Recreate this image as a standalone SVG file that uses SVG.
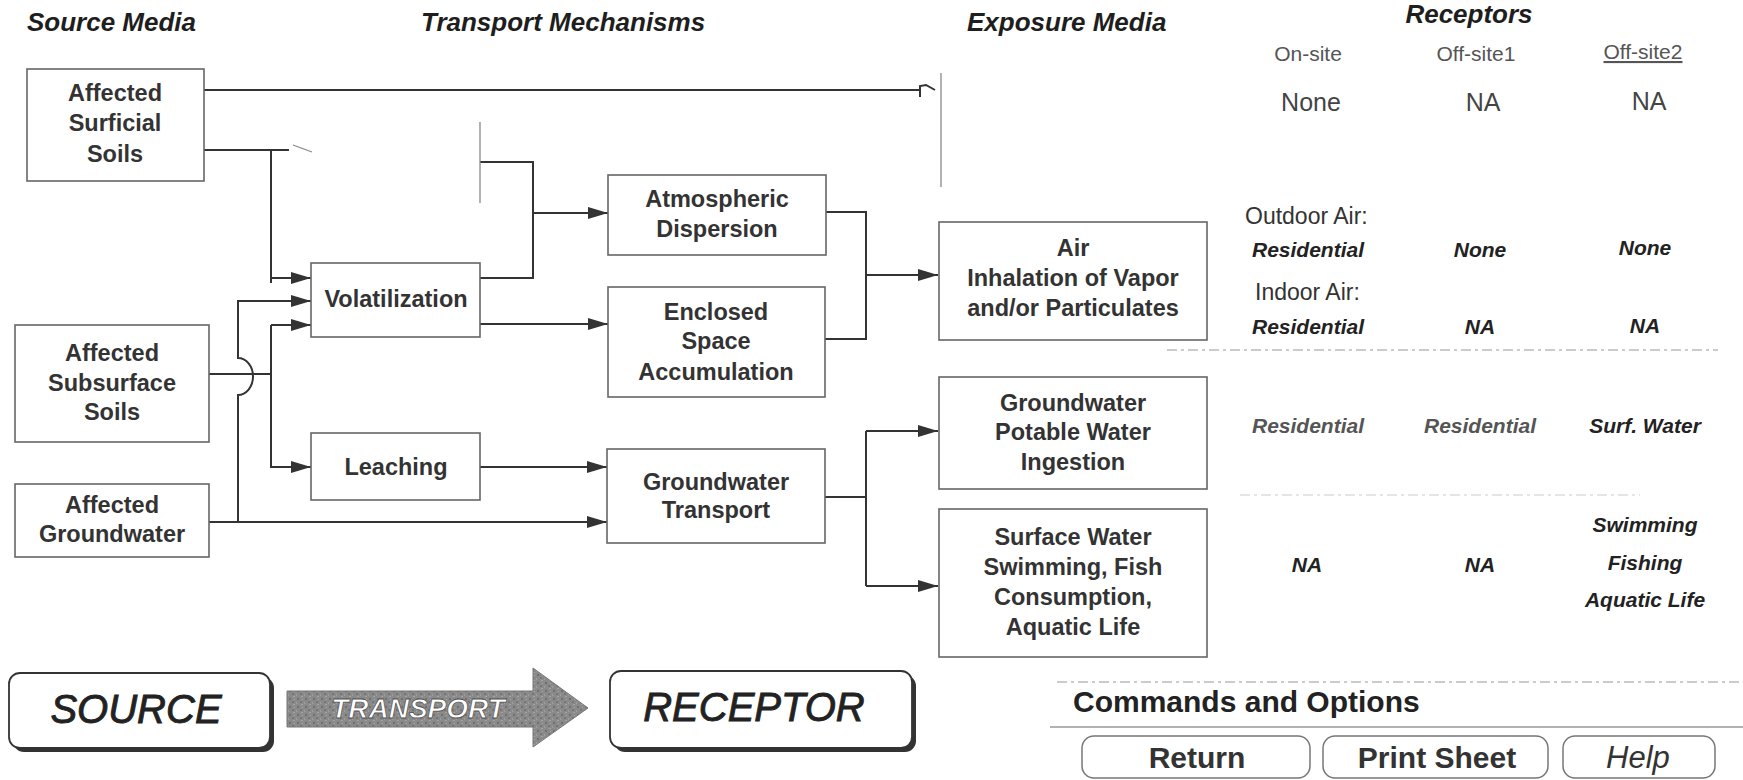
<svg xmlns="http://www.w3.org/2000/svg" width="1743" height="780" viewBox="0 0 1743 780">
<style>
text{font-family:"Liberation Sans",Arial,Helvetica,sans-serif;fill:#2a2a2a}
.hdr{font-size:26px;font-weight:bold;font-style:italic;fill:#1e1e1e}
.bx{fill:#fff;stroke:#666;stroke-width:1.6}
.bt{font-size:23.5px;font-weight:bold;text-anchor:middle;fill:#333}
.ln{fill:none;stroke:#333;stroke-width:2}
.lt{fill:none;stroke:#888;stroke-width:1.3}
.col{font-size:21px;text-anchor:middle;fill:#555}
.val{font-size:25px;text-anchor:middle;fill:#444}
.lab{font-size:23px;fill:#333}
.bi{font-size:21px;font-weight:bold;font-style:italic;text-anchor:middle;fill:#222}
.bg{font-size:21px;font-weight:bold;font-style:italic;text-anchor:middle;fill:#555}
.big{font-size:40px;font-style:italic;text-anchor:middle;fill:#222;stroke:#222;stroke-width:0.9}
.btn{fill:#fff;stroke:#777;stroke-width:1.5}
.bl{font-size:30px;font-weight:bold;text-anchor:middle;fill:#333}
.sep{stroke:#bbb;stroke-width:1.5;stroke-dasharray:10 4 3 4;fill:none}
</style>
<defs>
<marker id="ah" markerUnits="userSpaceOnUse" markerWidth="20" markerHeight="12" refX="20" refY="6" orient="auto">
<path d="M0,0 L20,6 L0,12 z" fill="#333"/>
</marker>
<pattern id="mottle" patternUnits="userSpaceOnUse" width="8" height="8">
<rect width="8" height="8" fill="#8a8a8a"/>
<rect x="1" y="2" width="2" height="2" fill="#6f6f6f"/>
<rect x="5" y="0" width="2" height="1" fill="#a3a3a3"/>
<rect x="4" y="5" width="2" height="2" fill="#767676"/>
<rect x="0" y="6" width="1" height="2" fill="#9e9e9e"/>
<rect x="6" y="3" width="1" height="1" fill="#a8a8a8"/>
</pattern>
</defs>
<rect width="1743" height="780" fill="#fff"/>

<g id="headers">
<text class="hdr" x="27" y="31">Source Media</text>
<text class="hdr" x="421" y="31">Transport Mechanisms</text>
<text class="hdr" x="967" y="31">Exposure Media</text>
<text class="hdr" x="1469" y="23" text-anchor="middle">Receptors</text>
</g>

<g id="connectors">
<path class="ln" d="M204,90 H920 M920,97 V86 L926,85 L935,90"/>
<path class="lt" d="M941,73 V187"/>
<path class="ln" d="M204,150 H289"/>
<path class="lt" d="M293,145 L312,152"/>
<path class="ln" d="M271,150 V283"/>
<path class="ln" d="M271,278 H311" marker-end="url(#ah)"/>
<path class="ln" d="M209,374 H271 M271,325 V468"/>
<path class="ln" d="M271,325 H311" marker-end="url(#ah)"/>
<path class="ln" d="M271,467 H311" marker-end="url(#ah)"/>
<path class="ln" d="M209,522 H607" marker-end="url(#ah)"/>
<path class="ln" d="M238,522 V395 A15 18.5 0 0 0 238,358 V301 H311" marker-end="url(#ah)"/>
<path class="ln" d="M480,278 H533 V162 H480"/>
<path class="lt" d="M480,122 V203"/>
<path class="ln" d="M533,213 H608" marker-end="url(#ah)"/>
<path class="ln" d="M480,324 H608" marker-end="url(#ah)"/>
<path class="ln" d="M480,467 H607" marker-end="url(#ah)"/>
<path class="ln" d="M826,212 H866 V339 H825"/>
<path class="ln" d="M866,275 H938" marker-end="url(#ah)"/>
<path class="ln" d="M825,497 H866 M866,431 V586"/>
<path class="ln" d="M866,431 H938" marker-end="url(#ah)"/>
<path class="ln" d="M866,586 H938" marker-end="url(#ah)"/>
</g>

<g id="surficial">
<rect class="bx" x="27" y="69" width="177" height="112"/>
<text class="bt" x="115" y="101">Affected</text>
<text class="bt" x="115" y="131">Surficial</text>
<text class="bt" x="115" y="162">Soils</text>
</g>
<g id="subsurface">
<rect class="bx" x="15" y="325" width="194" height="117"/>
<text class="bt" x="112" y="361">Affected</text>
<text class="bt" x="112" y="391">Subsurface</text>
<text class="bt" x="112" y="420">Soils</text>
</g>
<g id="groundwater">
<rect class="bx" x="15" y="484" width="194" height="73"/>
<text class="bt" x="112" y="513">Affected</text>
<text class="bt" x="112" y="542">Groundwater</text>
</g>
<g id="volatilization">
<rect class="bx" x="311" y="263" width="169" height="74"/>
<text class="bt" x="396" y="307">Volatilization</text>
</g>
<g id="leaching">
<rect class="bx" x="311" y="433" width="169" height="67"/>
<text class="bt" x="396" y="475">Leaching</text>
</g>
<g id="atmospheric">
<rect class="bx" x="608" y="175" width="218" height="80"/>
<text class="bt" x="717" y="207">Atmospheric</text>
<text class="bt" x="717" y="237">Dispersion</text>
</g>
<g id="enclosed">
<rect class="bx" x="608" y="287" width="217" height="110"/>
<text class="bt" x="716" y="320">Enclosed</text>
<text class="bt" x="716" y="349">Space</text>
<text class="bt" x="716" y="380">Accumulation</text>
</g>
<g id="gwtransport">
<rect class="bx" x="607" y="449" width="218" height="94"/>
<text class="bt" x="716" y="490">Groundwater</text>
<text class="bt" x="716" y="518">Transport</text>
</g>
<g id="air">
<rect class="bx" x="939" y="222" width="268" height="118"/>
<text class="bt" x="1073" y="256">Air</text>
<text class="bt" x="1073" y="286">Inhalation of Vapor</text>
<text class="bt" x="1073" y="316">and/or Particulates</text>
</g>
<g id="gwpotable">
<rect class="bx" x="939" y="377" width="268" height="112"/>
<text class="bt" x="1073" y="411">Groundwater</text>
<text class="bt" x="1073" y="440">Potable Water</text>
<text class="bt" x="1073" y="470">Ingestion</text>
</g>
<g id="surfacewater">
<rect class="bx" x="939" y="509" width="268" height="148"/>
<text class="bt" x="1073" y="545">Surface Water</text>
<text class="bt" x="1073" y="575">Swimming, Fish</text>
<text class="bt" x="1073" y="605">Consumption,</text>
<text class="bt" x="1073" y="635">Aquatic Life</text>
</g>

<g id="receptors">
<text class="col" x="1308" y="61">On-site</text>
<text class="col" x="1476" y="61">Off-site1</text>
<text class="col" x="1643" y="59" text-decoration="underline">Off-site2</text>
<text class="val" x="1311" y="111">None</text>
<text class="val" x="1483" y="111">NA</text>
<text class="val" x="1649" y="110">NA</text>
<text class="lab" x="1245" y="224">Outdoor Air:</text>
<text class="bi" x="1308" y="257">Residential</text>
<text class="bi" x="1480" y="257">None</text>
<text class="bi" x="1645" y="255">None</text>
<text class="lab" x="1255" y="300">Indoor Air:</text>
<text class="bi" x="1308" y="334">Residential</text>
<text class="bi" x="1480" y="334">NA</text>
<text class="bi" x="1645" y="333">NA</text>
<path class="sep" d="M1167,350 H1718"/>
<text class="bg" x="1308" y="433">Residential</text>
<text class="bg" x="1480" y="433">Residential</text>
<text class="bi" x="1645" y="433">Surf. Water</text>
<path class="sep" d="M1240,495 H1640" style="stroke:#ddd"/>
<text class="bi" x="1645" y="532">Swimming</text>
<text class="bi" x="1645" y="570">Fishing</text>
<text class="bi" x="1645" y="607">Aquatic Life</text>
<text class="bi" x="1307" y="572">NA</text>
<text class="bi" x="1480" y="572">NA</text>
</g>

<g id="legend">
<rect x="13" y="677" width="261" height="75" rx="11" fill="#333"/>
<rect x="9" y="673" width="261" height="75" rx="11" fill="#fff" stroke="#333" stroke-width="1.8"/>
<text class="big" x="136" y="723">SOURCE</text>
<path d="M287,691 H533 V668 L588,708 L533,747 V727 H287 z" fill="url(#mottle)" stroke="#777" stroke-width="1"/>
<text x="418" y="718" text-anchor="middle" style="font-size:28px;font-weight:bold;font-style:italic;fill:#fff;stroke:#555;stroke-width:0.8">TRANSPORT</text>
<rect x="614" y="675" width="302" height="77" rx="11" fill="#333"/>
<rect x="610" y="671" width="302" height="77" rx="11" fill="#fff" stroke="#333" stroke-width="1.8"/>
<text class="big" x="754" y="721">RECEPTOR</text>
</g>

<g id="commands">
<path class="sep" d="M1057,682 H1743"/>
<text x="1073" y="712" style="font-size:30px;font-weight:bold;fill:#222">Commands and Options</text>
<path d="M1050,727 H1743" stroke="#999" stroke-width="1.5"/>
<rect class="btn" x="1082" y="736" width="228" height="42" rx="12"/>
<text class="bl" x="1197" y="768">Return</text>
<rect class="btn" x="1323" y="736" width="225" height="42" rx="12"/>
<text class="bl" x="1437" y="768">Print Sheet</text>
<rect class="btn" x="1563" y="736" width="152" height="42" rx="12"/>
<text x="1638" y="768" text-anchor="middle" style="font-size:31px;font-style:italic;fill:#333">Help</text>
</g>
</svg>
